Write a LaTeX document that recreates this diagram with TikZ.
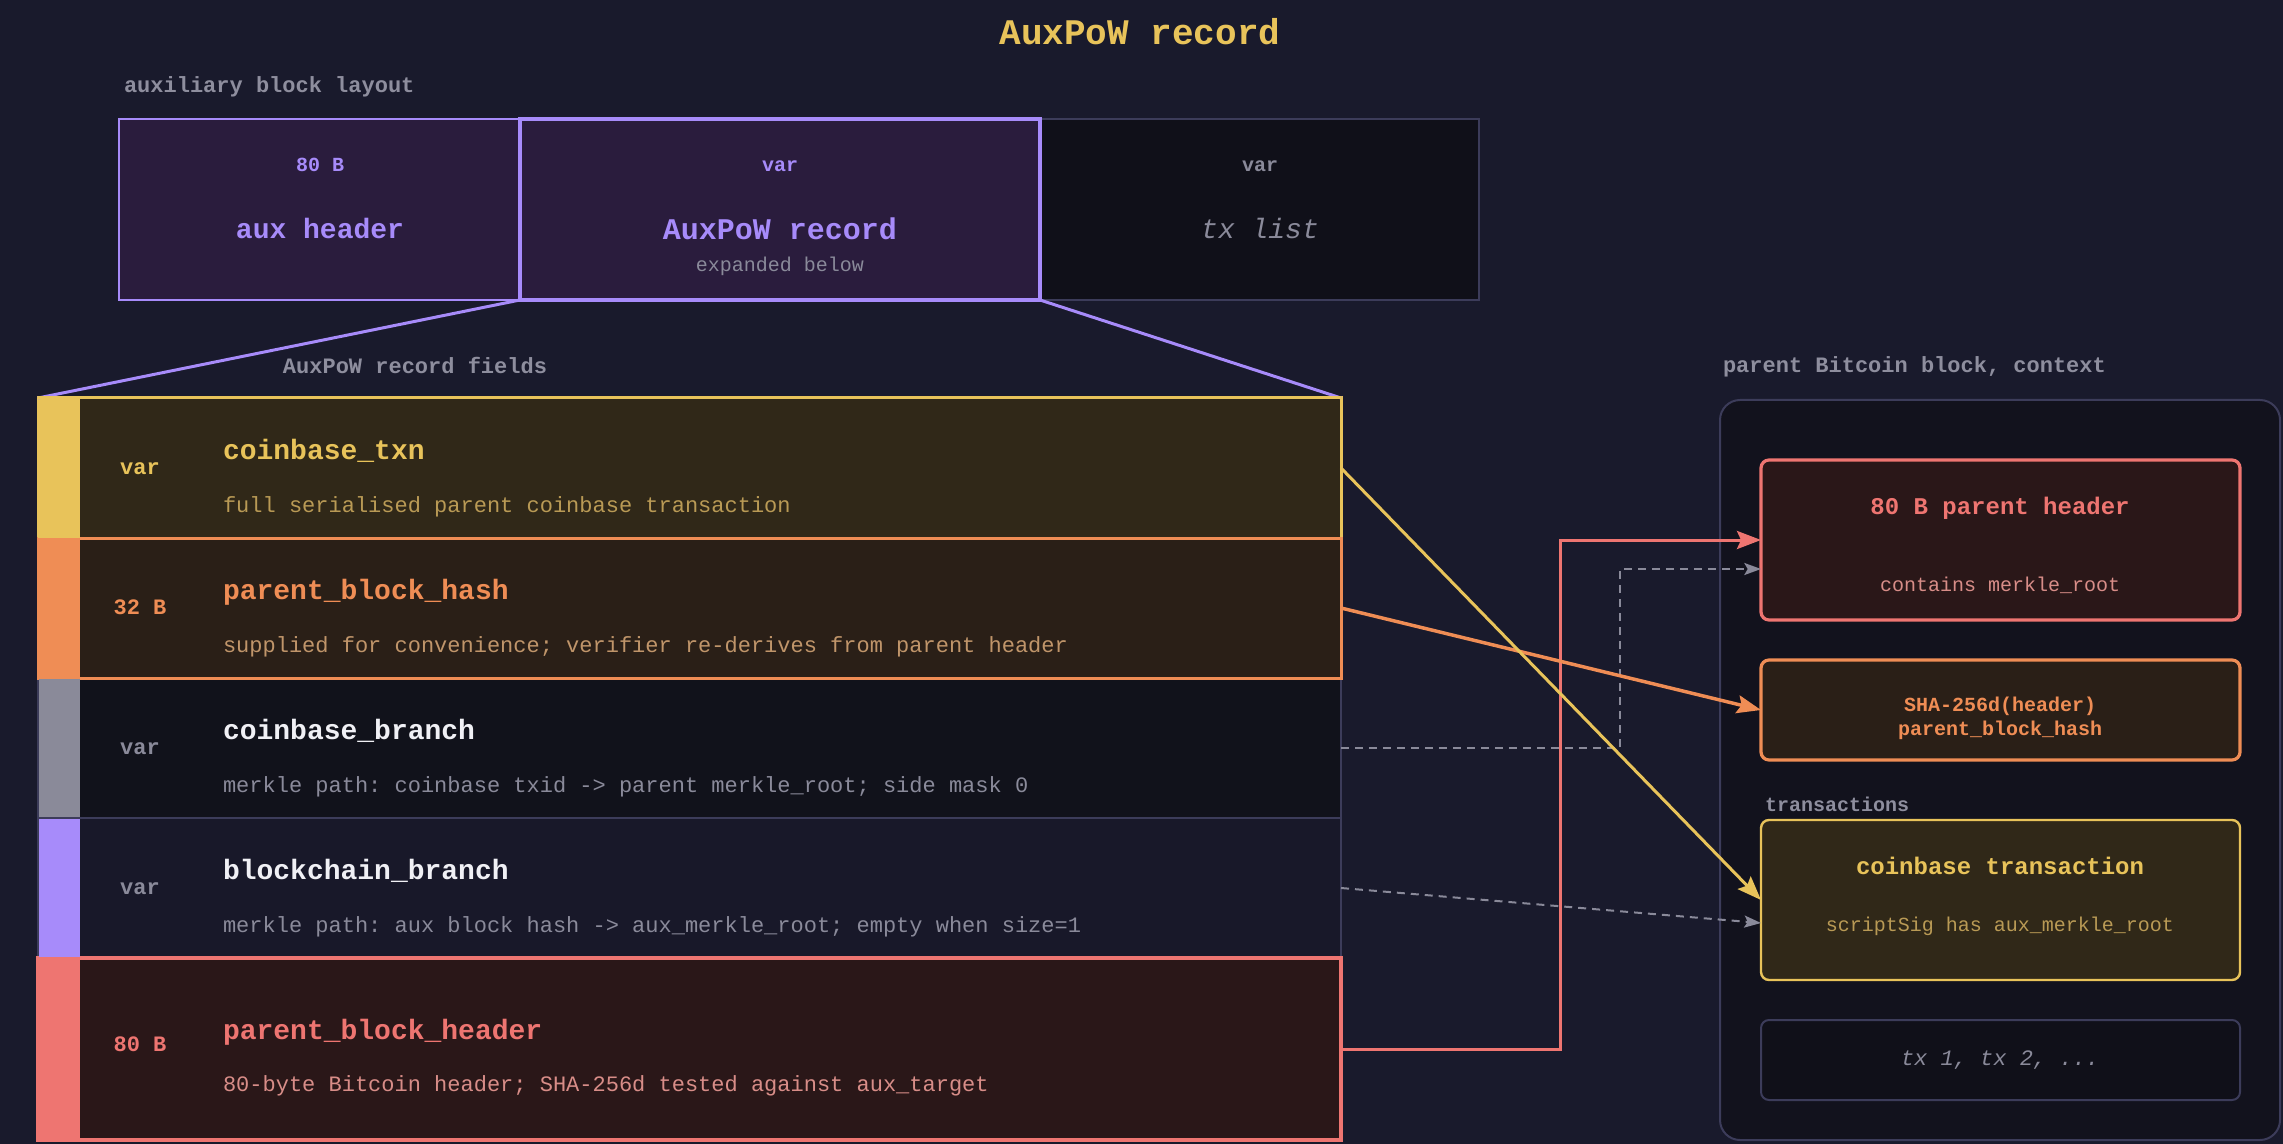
\documentclass[tikz,border=0pt]{standalone}
\usepackage{fontspec}
\setmainfont{Liberation Mono}
\frenchspacing
\usetikzlibrary{arrows.meta,calc,fit}
\definecolor{bg}{HTML}{191A2C}
\definecolor{purp}{HTML}{A78BFA}
\definecolor{purpfill}{HTML}{2A1C3D}
\definecolor{darkfill}{HTML}{101019}
\definecolor{lineg}{HTML}{3C3C5A}
\definecolor{yel}{HTML}{E8C35A}
\definecolor{yfill}{HTML}{302818}
\definecolor{ydesc}{HTML}{B99A55}
\definecolor{ora}{HTML}{EF8D55}
\definecolor{ofill}{HTML}{2A1F17}
\definecolor{odesc}{HTML}{C0956A}
\definecolor{redc}{HTML}{EE7571}
\definecolor{rfill}{HTML}{2A1718}
\definecolor{rdesc}{HTML}{D88D88}
\definecolor{grybar}{HTML}{8A8A99}
\definecolor{r3fill}{HTML}{11121B}
\definecolor{r4fill}{HTML}{181829}
\definecolor{namew}{HTML}{F0F0F5}
\definecolor{descg}{HTML}{8A8A9A}
\definecolor{labg}{HTML}{8E8E9E}
\definecolor{contfill}{HTML}{12121D}
\begin{document}
\begin{tikzpicture}[x=0.75pt,y=-0.75pt,
  box/.style={inner sep=0pt,outer sep=0pt},
  t/.style={inner sep=0pt,outer sep=0pt,anchor=mid},
  tw/.style={inner sep=0pt,outer sep=0pt,anchor=mid west},
  fA/.style={font=\fontsize{27}{30}\selectfont\bfseries},
  fN/.style={font=\fontsize{21}{24}\selectfont\bfseries},
  fB/.style={font=\fontsize{22.5}{25}\selectfont\bfseries},
  fH/.style={font=\fontsize{18}{21}\selectfont\bfseries},
  fL/.style={font=\fontsize{16.5}{19}\selectfont\bfseries},
  fD/.style={font=\fontsize{16.5}{19}\selectfont},
  fS/.style={font=\fontsize{15}{18}\selectfont\bfseries},
  fs/.style={font=\fontsize{15}{18}\selectfont},
  conn/.style={line width=2.25pt,-{Stealth[length=18pt,width=13.5pt,inset=3pt]}},
  dconn/.style={line width=1.5pt,draw=descg,dash pattern=on 6pt off 4.5pt,-{Stealth[length=12.5pt,width=9pt,inset=2.5pt]}}
]
\fill[bg] (0,0) rectangle (2283,1144);
\useasboundingbox (0,0) rectangle (2283,1144);

% title
\node[t,fA,text=yel] (title) at (1140,41) {AuxPoW record};
\node[tw,fL,text=labg] (lblA) at (124,89) {auxiliary block layout};

% top layout boxes
\node[box,fit={(119,119)(520,300)},fill=purpfill,draw=purp,line width=1.9pt] (auxh) {};
\node[box,fit={(1040,119)(1479,300)},fill=darkfill,draw=lineg,line width=1.5pt] (txl) {};
\node[box,fit={(520,119)(1040,300)},fill=purpfill,draw=purp,line width=2.6pt] (auxr) {};
\node[t,fS,text=purp] (auxhs) at (320,168) {80 B};
\node[t,fN,text=purp] (auxhn) at (320,235) {aux header};
\node[t,fS,text=purp] (auxrs) at (780,168) {var};
\node[t,fB,text=purp] (auxrn) at (780,236) {AuxPoW record};
\node[t,fs,text=descg] (auxrd) at (780,268) {expanded below};
\node[t,fS,text=descg] (txls) at (1260,168) {var};
\node[t,font=\fontsize{21}{24}\selectfont\itshape,text=descg] (txln) at (1260,235) {tx list};

\node[t,fL,text=labg] (lblF) at (415,370) {AuxPoW record fields};

% rows
\node[box,fit={(38,678)(1341,818)},fill=r3fill,draw=lineg,line width=1.5pt] (r3) {};
\node[box,fit={(38,818)(1341,958)},fill=r4fill,draw=lineg,line width=1.5pt] (r4) {};
\node[box,fit={(38,398)(1341,538)},fill=yfill,draw=yel,line width=2.25pt] (r1) {};
\node[box,fit={(38,538)(1341,678)},fill=ofill,draw=ora,line width=2.25pt] (r2) {};
\node[box,fit={(38,958)(1341,1140)},fill=rfill,draw=redc,line width=2.8pt] (r5) {};

\node[box,fit={(38,398)(80,538)},fill=yel] (b1) {};
\node[box,fit={(38,538)(80,678)},fill=ora] (b2) {};
\node[box,fit={(39,679)(80,817)},fill=grybar] (b3) {};
\node[box,fit={(39,819)(80,957)},fill=purp] (b4) {};
\node[box,fit={(38,958)(80,1140)},fill=redc] (b5) {};

% trapezoid
\draw[purp,line width=2.25pt] (auxr.south west) -- (r1.north west);
\draw[purp,line width=2.25pt] (auxr.south east) -- (r1.north east);
\draw[yel,line width=2.25pt] (r1.north west) -- (r1.north east);

% row texts
\node[t,fL,text=yel] (s1) at (140,471) {var};
\node[tw,fN,text=yel] (n1) at (223,456) {coinbase\_txn};
\node[tw,fD,text=ydesc] (d1) at (223,509) {full serialised parent coinbase transaction};

\node[t,fL,text=ora] (s2) at (140,611) {32 B};
\node[tw,fN,text=ora] (n2) at (223,596) {parent\_block\_hash};
\node[tw,fD,text=odesc] (d2) at (223,649) {supplied for convenience; verifier re-derives from parent header};

\node[t,fL,text=descg] (s3) at (140,751) {var};
\node[tw,fN,text=namew] (n3) at (223,736) {coinbase\_branch};
\node[tw,fD,text=descg] (d3) at (223,789) {merkle path: coinbase txid -> parent merkle\_root; side mask 0};

\node[t,fL,text=descg] (s4) at (140,891) {var};
\node[tw,fN,text=namew] (n4) at (223,876) {blockchain\_branch};
\node[tw,fD,text=descg] (d4) at (223,929) {merkle path: aux block hash -> aux\_merkle\_root; empty when size=1};

\node[t,fL,text=redc] (s5) at (140,1048) {80 B};
\node[tw,fN,text=redc] (n5) at (223,1036) {parent\_block\_header};
\node[tw,fD,text=rdesc] (d5) at (223,1088) {80-byte Bitcoin header; SHA-256d tested against aux\_target};

% right container
\node[tw,fL,text=labg] (lblP) at (1723,369) {parent Bitcoin block, context};
\node[box,fit={(1720,400)(2280,1140)},fill=contfill,draw=lineg,line width=1.5pt,rounded corners=15pt] (cont) {};

\node[box,fit={(1761,460)(2240,620)},fill=rfill,draw=redc,line width=2.4pt,rounded corners=6pt] (ph) {};
\node[t,fH,text=redc] (phn) at (2000,511) {80 B parent header};
\node[t,fs,text=rdesc] (phd) at (2000,588) {contains merkle\_root};

\node[box,fit={(1761,660)(2240,760)},fill=ofill,draw=ora,line width=2.4pt,rounded corners=6pt] (sha) {};
\node[t,fS,text=ora] (sha1) at (2000,708) {SHA-256d(header)};
\node[t,fS,text=ora] (sha2) at (2000,732) {parent\_block\_hash};

\node[tw,fS,text=labg] (lblT) at (1765,808) {transactions};
\node[box,fit={(1761,820)(2240,980)},fill=yfill,draw=yel,line width=1.8pt,rounded corners=6pt] (cb) {};
\node[t,fH,text=yel] (cbn) at (2000,871) {coinbase transaction};
\node[t,fs,text=ydesc] (cbd) at (2000,928) {scriptSig has aux\_merkle\_root};

\node[box,fit={(1761,1020)(2240,1100)},fill=darkfill,draw=lineg,line width=1.5pt,rounded corners=6pt] (txs) {};
\node[t,font=\fontsize{16.5}{19}\selectfont\itshape,text=descg] (txsn) at (2000,1062) {tx 1, tx 2, ...};

% connectors
\draw[dconn] (r3.east) -- ++(279,0) |- ($(ph.west)+(0,29)$);
\draw[dconn] (r4.east) -- ($(cb.west)+(0,23)$);
\draw[conn,redc] (r5.east) -- ++(219,0) |- (ph.west);
\draw[conn,ora,line width=2.6pt] (r2.east) -- (sha.west);
\draw[conn,yel] (r1.east) -- (cb.west);
\end{tikzpicture}
\end{document}
